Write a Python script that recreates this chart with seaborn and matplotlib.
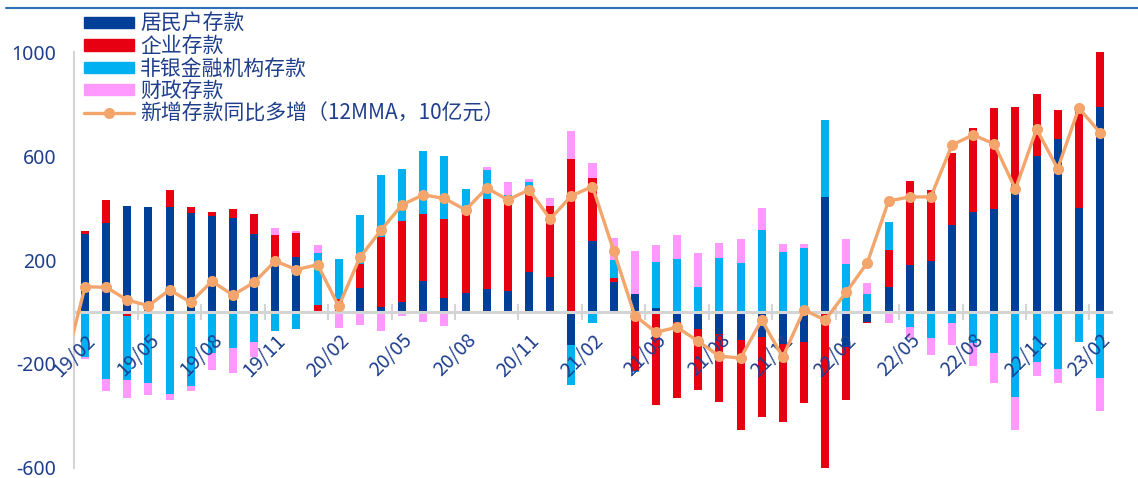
import numpy as np
import pandas as pd
import matplotlib
matplotlib.use("Agg")
import matplotlib.pyplot as plt
import seaborn as sns
from matplotlib.patches import Patch
from matplotlib.lines import Line2D
from matplotlib.ticker import FixedLocator

# ---------------- data ----------------
months = ["19/02", "19/03", "19/04", "19/05", "19/06", "19/07", "19/08", "19/09",
          "19/10", "19/11", "19/12", "20/01", "20/02", "20/03", "20/04", "20/05",
          "20/06", "20/07", "20/08", "20/09", "20/10", "20/11", "20/12", "21/01",
          "21/02", "21/03", "21/04", "21/05", "21/06", "21/07", "21/08", "21/09",
          "21/10", "21/11", "21/12", "22/01", "22/02", "22/03", "22/04", "22/05",
          "22/06", "22/07", "22/08", "22/09", "22/10", "22/11", "22/12", "23/01",
          "23/02"]

household = [300, 342, 409, 403, 405, 382, 368, 362, 301, 195, 210, -8, 0, 91, 20, 37,
             120, 54, 72, 88, 80, 153, 133, -127, 274, 117, 68, 15, -40, -65, -85, -108,
             -97, -123, -117, 441, -136, -37, 97, 182, 197, 336, 383, 398, 455, 599, 665,
             400, 790]
enterprise = [10, 89, -14, 3, 64, 21, 18, 35, 76, 101, 95, 28, 50, 94, 267, 314,
              257, 304, 309, 347, 365, 330, 276, 588, 241, 13, -226, -360, -291, -234, -260, -346,
              -309, -299, -233, -606, -205, -6, 141, 321, 273, 278, 324, 387, 336, 242, 111,
              374, 213]
nonbank = [-174, -258, -250, -273, -315, -286, -159, -140, -115, -72, -65, 199, 154, 188, 241, 199,
           241, 243, 92, 111, 6, 16, -5, -154, -43, 70, -5, 177, 204, 95, 209, 187,
           315, 229, 246, 297, 185, 69, 107, -59, -101, -42, -120, -159, -326, -192, -220,
           -114, -255]
fiscal = [-7, -45, -68, -46, -26, -17, -63, -96, -58, 26, 5, 32, -63, -49, -72, -14,
          -37, -53, 0, 14, 49, 12, 28, 107, 58, 83, 165, 67, 93, 131, 55, 94,
          84, 33, 14, 0, 96, 43, -43, -42, -64, -85, -87, -113, -127, -53, -52,
          0, -127]
# 12MMA line; first value belongs to 19/01 (just left of the plotted range)
line_prev = -225
line_vals = [97, 95, 46, 24, 85, 37, 118, 65, 114, 196, 163, 182, 22, 210, 315, 413,
             451, 437, 393, 477, 432, 470, 358, 447, 483, 236, -14, -78, -59, -113, -170, -178,
             -31, -174, 8, -31, 76, 190, 427, 443, 443, 643, 682, 647, 473, 704, 552,
             785, 691]

names = ["居民户存款", "企业存款", "非银金融机构存款", "财政存款"]
line_name = "新增存款同比多增（12MMA，10亿元）"

# ---------------- style ----------------
C_HH = "#003f98"
C_ENT = "#e60012"
C_NB = "#00b0f0"
C_FIS = "#ff99ff"
C_LINE = "#f3a56b"
C_TXT = "#1f3f8c"
C_AX = "#d4d4d4"

sns.set_theme(style="white")
plt.rcParams["font.family"] = ["Noto Sans CJK SC", "DejaVu Sans"]
plt.rcParams["axes.unicode_minus"] = False

fig = plt.figure(figsize=(11.38, 4.78), dpi=100)
ax = fig.add_axes([0.0654, 0.0215, 0.9105, 0.8691])
ax.set_axisbelow(False)

n = len(months)
x = np.arange(n)
pos = np.zeros(n)
neg = np.zeros(n)
for vals, col in zip([household, enterprise, nonbank, fiscal], [C_HH, C_ENT, C_NB, C_FIS]):
    v = np.array(vals, dtype=float)
    bottom = np.where(v >= 0, pos, neg)
    ax.bar(x, v, bottom=bottom, width=0.38, color=col, linewidth=0, zorder=2)
    pos += np.where(v >= 0, v, 0)
    neg += np.where(v < 0, v, 0)

line_df = pd.DataFrame({"x": np.arange(-1, n), "v": [line_prev] + line_vals})
sns.lineplot(data=line_df, x="x", y="v", ax=ax, color=C_LINE, linewidth=2.4,
             marker="o", markersize=8, markeredgewidth=0, zorder=4, legend=False)

ax.set_xlim(-0.5, n - 0.5)
ax.set_ylim(-600, 1000)
ax.set_xlabel("")
ax.set_ylabel("")

for s in ["top", "right"]:
    ax.spines[s].set_visible(False)
ax.spines["left"].set_color(C_AX)
ax.spines["left"].set_linewidth(1.5)
ax.spines["bottom"].set_position(("data", 0))
ax.spines["bottom"].set_color(C_AX)
ax.spines["bottom"].set_linewidth(2.2)
ax.spines["bottom"].set_zorder(3)

label_idx = list(range(0, n, 3))
ax.xaxis.set_major_locator(FixedLocator(label_idx))
ax.set_xticklabels([months[i] for i in label_idx])
ax.xaxis.set_minor_locator(FixedLocator(np.arange(-0.5, n, 1.0)))
ax.tick_params(axis="x", which="major", length=0, pad=13, labelsize=14, labelcolor=C_TXT)
ax.tick_params(axis="x", which="minor", direction="in", length=5, width=1.5, color=C_AX)
for lab in ax.get_xticklabels():
    lab.set_rotation(45)
    lab.set_ha("right")
    lab.set_va("top")
    lab.set_rotation_mode("anchor")

# taller ticks at every third category boundary
sec = ax.secondary_xaxis(0.375)
sec.set_xticks([i - 0.5 for i in label_idx], labels=[""] * len(label_idx))
sec.tick_params(axis="x", direction="inout", length=11, width=1.5, color=C_AX)
for s in sec.spines.values():
    s.set_visible(False)

ax.set_yticks([-600, -200, 200, 600, 1000])
ax.tick_params(axis="y", direction="in", length=4, width=1.5, color=C_AX, pad=13,
               labelsize=14, labelcolor=C_TXT)
for lab in ax.get_yticklabels():
    lab.set_family(["Noto Sans", "DejaVu Sans"])
ax.grid(False)

handles = [Patch(color=C_HH), Patch(color=C_ENT), Patch(color=C_NB), Patch(color=C_FIS),
           Line2D([0], [0], color=C_LINE, lw=2.4, marker="o", markersize=8, markeredgewidth=0)]
fig.legend(handles, names + [line_name], loc="upper left",
           bbox_to_anchor=(84 / 1138, 1 - 13 / 478), frameon=False, fontsize=15,
           labelcolor=C_TXT, handlelength=2.4, handleheight=0.45, handletextpad=0.3,
           labelspacing=0.02, borderpad=0, borderaxespad=0)

# header rule at the very top
fig.add_artist(Line2D([0.005, 1.0], [0.983, 0.983], transform=fig.transFigure,
                      color="#2e6fb7", lw=1.5))

fig.savefig("out.png", dpi=100)
